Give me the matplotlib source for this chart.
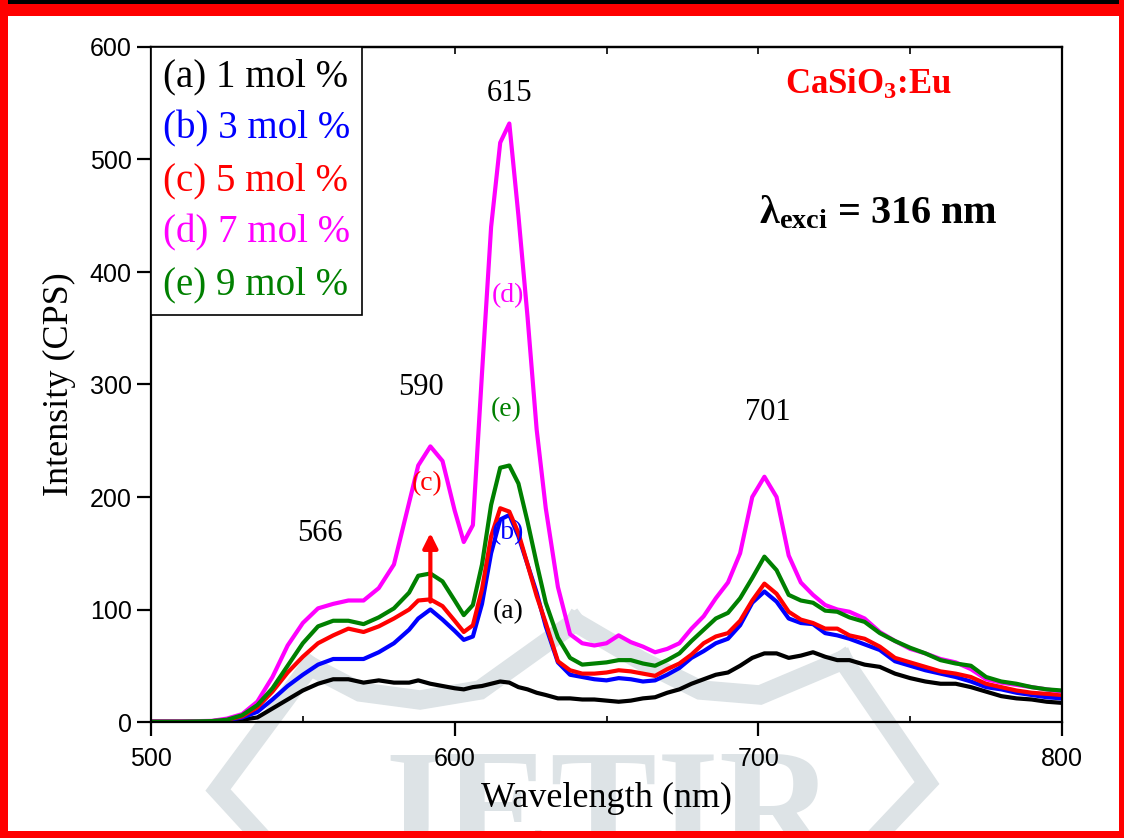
import matplotlib
matplotlib.use("Agg")
import matplotlib.pyplot as plt
from matplotlib.patches import Rectangle
from matplotlib.lines import Line2D

plt.rcParams['font.family'] = ['Liberation Serif', 'DejaVu Serif']
plt.rcParams['mathtext.fontset'] = 'custom'
plt.rcParams['mathtext.rm'] = 'Liberation Serif'
plt.rcParams['mathtext.bf'] = 'Liberation Serif:bold'
plt.rcParams['mathtext.it'] = 'Liberation Serif:italic'

wavelength = [500, 510, 520, 525, 530, 535, 540, 545, 550, 555, 560, 565, 570, 575, 580,
              585, 588, 592, 596, 600, 603, 606, 609, 612, 615, 618, 621, 624, 627, 630,
              634, 638, 642, 646, 650, 654, 658, 662, 666, 670, 674, 678, 682, 686, 690,
              694, 698, 702, 706, 710, 714, 718, 722, 726, 730, 735, 740, 745, 750, 755,
              760, 765, 770, 775, 780, 785, 790, 795, 800]

int_a = [0.2, 0.2, 0.4, 1, 2, 4, 12, 20, 28, 34, 38, 38, 35, 37, 35,
         35, 37, 34, 32, 30, 29, 31, 32, 34, 36, 35, 31, 29, 26, 24,
         21, 21, 20, 20, 19, 18, 19, 21, 22, 26, 29, 34, 38, 42, 44,
         50, 57, 61, 61, 57, 59, 62, 58, 55, 55, 51, 49, 43, 39, 36,
         34, 34, 31, 27, 23, 21, 20, 18, 17]

int_b = [0.2, 0.2, 0.5, 1.5, 4, 9, 20, 32, 42, 51, 56, 56, 56, 62, 70,
         82, 92, 100, 91, 81, 73, 76, 105, 150, 180, 184, 165, 140, 115, 85,
         53, 42, 40, 38, 37, 39, 38, 36, 37, 42, 48, 57, 63, 70, 74,
         86, 106, 116, 107, 92, 88, 87, 79, 77, 74, 69, 64, 54, 50, 46,
         43, 40, 36, 31, 29, 26, 24, 22, 21]

int_c = [0.3, 0.3, 0.7, 2, 5, 13, 27, 44, 58, 70, 77, 83, 80, 85, 92,
         100, 108, 109, 103, 90, 80, 86, 118, 165, 190, 187, 168, 140, 112, 88,
         54, 46, 43, 43, 44, 46, 45, 43, 41, 47, 52, 60, 70, 76, 79,
         90, 108, 123, 114, 98, 91, 88, 83, 83, 77, 74, 67, 57, 53, 49,
         45, 43, 40, 34, 31, 28, 26, 25, 24]

int_d = [0.5, 0.5, 1, 3, 7, 18, 40, 68, 88, 101, 105, 108, 108, 119, 140,
         195, 228, 245, 232, 188, 160, 175, 310, 440, 515, 532, 450, 360, 260, 190,
         120, 78, 70, 68, 70, 77, 71, 67, 62, 65, 70, 83, 94, 110, 124,
         150, 200, 218, 200, 148, 124, 113, 104, 100, 98, 92, 80, 72, 65, 61,
         56, 53, 47, 38, 35, 33, 31, 29, 27]

int_e = [0.3, 0.3, 0.8, 2, 6, 15, 30, 50, 70, 85, 90, 90, 87, 93, 101,
         115, 130, 132, 125, 108, 95, 104, 140, 193, 226, 228, 212, 178, 141, 106,
         75, 57, 51, 52, 53, 55, 55, 52, 50, 55, 61, 72, 82, 92, 97,
         110, 128, 147, 135, 113, 108, 106, 99, 98, 93, 89, 79, 72, 66, 61,
         55, 52, 50, 40, 36, 34, 31, 29, 28]

series = [int_a, int_b, int_c, int_d, int_e]
labels = ['(a) 1 mol %', '(b) 3 mol %', '(c) 5 mol %', '(d) 7 mol %', '(e) 9 mol %']
colors = ['black', 'blue', 'red', 'magenta', 'green']

W, H = 1124, 838
fig = plt.figure(figsize=(W / 100, H / 100), dpi=100)

def px_rect(x0, y0, x1, y1, color, z=0):
    fig.add_artist(Rectangle((x0 / W, 1 - y1 / H), (x1 - x0) / W, (y1 - y0) / H,
                             transform=fig.transFigure, facecolor=color,
                             edgecolor='none', zorder=z))

# watermark (decorative, light gray)
wm = '#dde3e6'
def px_line(xs, ys, lw=14):
    fig.add_artist(Line2D([x / W for x in xs], [1 - y / H for y in ys],
                          transform=fig.transFigure, color=wm, lw=lw,
                          solid_joinstyle='miter', zorder=0.5))
px_line([262, 218, 292, 310], [838, 790, 690, 666])
px_line([310, 360, 420, 480, 575], [666, 692, 700, 690, 622])
px_line([575, 640, 700, 760, 843], [622, 660, 690, 695, 660])
px_line([843, 927, 875], [660, 783, 838])
fig.text(600 / W, (H - 860) / H, 'JETIR', fontsize=115, color=wm, ha='center',
         va='baseline', fontweight='bold', zorder=0.5)

ax = fig.add_axes([151 / W, 1 - 722 / H, (1062 - 151) / W, (722 - 47) / H])
ax.set_facecolor('none')
ax.set_zorder(1)

for y, c, lab in zip(series, colors, labels):
    ax.plot(wavelength, y, color=c, lw=3, label=lab)

ax.set_xlim(500, 800)
ax.set_ylim(0, 600)
ax.set_xticks([500, 600, 700, 800])
ax.set_xticks([550, 650, 750], minor=True)
ax.set_yticks([0, 100, 200, 300, 400, 500, 600])
for s in ax.spines.values():
    s.set_linewidth(1.6)
ax.tick_params(axis='x', which='major', direction='out', length=10, width=1.6,
               labelsize=18, pad=8)
ax.tick_params(axis='x', which='minor', direction='in', length=4, width=1.2)
ax.tick_params(axis='y', which='major', direction='out', length=10, width=1.6,
               labelsize=18, pad=4)
for t in ax.get_xticklabels() + ax.get_yticklabels():
    t.set_fontfamily('Liberation Sans')
secax = ax.secondary_xaxis('top')
secax.set_xticks([550, 600, 650, 700, 750])
secax.tick_params(direction='in', length=5, width=1.2, labeltop=False)
secax.spines['top'].set_linewidth(1.6)

ax.set_xlabel('Wavelength (nm)', fontsize=26, labelpad=8)
ax.set_ylabel('Intensity (CPS)', fontsize=26, labelpad=10)

leg = ax.legend(loc='upper left', borderaxespad=0, fontsize=28, handlelength=0,
                handletextpad=0, labelcolor='linecolor', fancybox=False,
                framealpha=1, edgecolor='black', labelspacing=0.38,
                borderpad=0.3)
leg.get_frame().set_linewidth(1.2)
for h in leg.legend_handles:
    h.set_visible(False)

# peak annotations
for txt, x, y in [('615', 618, 559), ('590', 589, 297), ('566', 555.6, 168), ('701', 703, 275)]:
    ax.text(x, y, txt, fontsize=22, ha='center', va='center')
for txt, x, y, c in [('(d)', 617.5, 379, 'magenta'), ('(e)', 617, 278, 'green'),
                     ('(c)', 591, 212, 'red'), ('(b)', 617.5, 168, 'blue'),
                     ('(a)', 617.5, 98, 'black')]:
    ax.text(x, y, txt, fontsize=20, ha='center', va='center', color=c)

ax.annotate('', xy=(592, 168), xytext=(592, 107),
            arrowprops=dict(arrowstyle='-|>', color='red', lw=3, mutation_scale=22,
                            shrinkA=0, shrinkB=0))

ax.text(868 / W, 1 - 85 / H, r'CaSiO$_\mathbf{3}$:Eu', transform=fig.transFigure,
        fontsize=25, fontweight='bold', color='red', ha='center', va='center')
ax.text(878 / W, 1 - 213 / H, r'$\mathbf{\lambda_{exci}}$' + ' = 316 nm',
        transform=fig.transFigure, fontsize=29, fontweight='bold', ha='center',
        va='center')

# border
px_rect(0, 0, W, 4, 'black', 3)
px_rect(0, 4, W, 16, 'red', 3)
px_rect(0, 0, 8, H, 'red', 3)
px_rect(W - 5, 0, W, H, 'red', 3)
px_rect(0, H - 7, W, H, 'red', 3)

fig.savefig('out.png', dpi=100)
